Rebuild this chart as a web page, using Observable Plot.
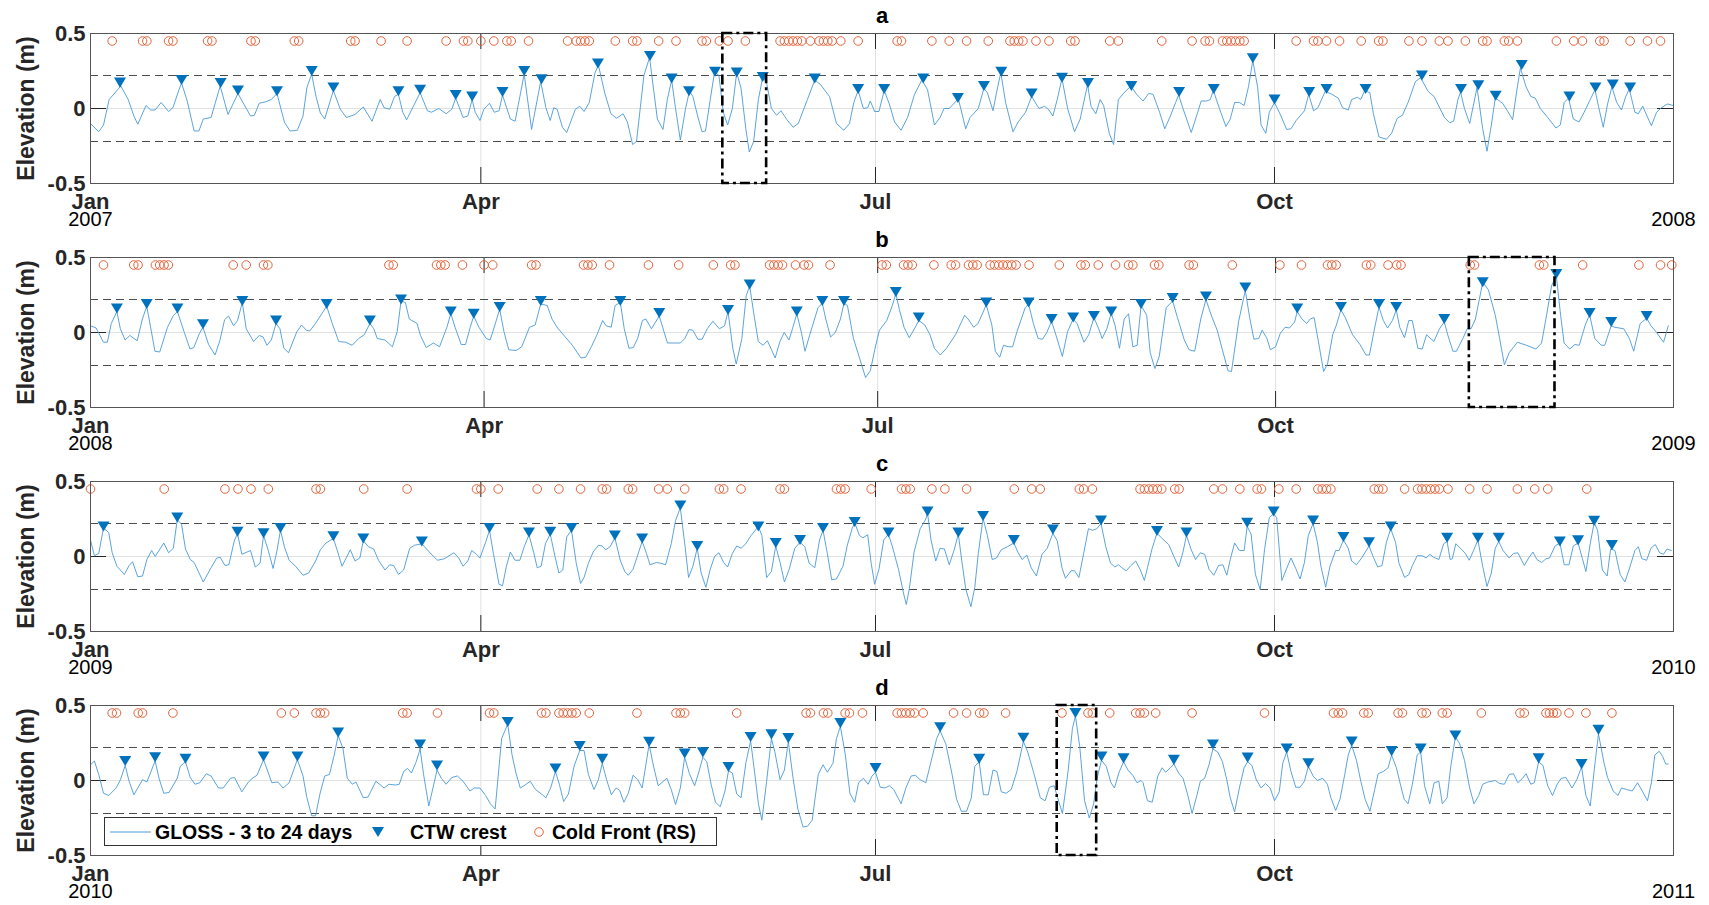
<!DOCTYPE html>
<html><head><meta charset="utf-8">
<script src="https://cdn.jsdelivr.net/npm/d3@7"></script>
<script src="https://cdn.jsdelivr.net/npm/@observablehq/plot@0.6"></script>
<style>
body{margin:0;background:#fff;font-family:"Liberation Sans",Arial,sans-serif}
#wrap{position:relative;width:1709px;height:905px;overflow:hidden}
#wrap svg{display:block;overflow:visible}
#legend{position:absolute;left:104px;top:817px}
</style></head><body><div id="wrap"></div>
<script>
// ---------------- DATA (day of year, value in m) ----------------
const years = [2007, 2008, 2009, 2010];
const panelLetters = ["a", "b", "c", "d"];
const monthLabels = ["Jan", "Apr", "Jul", "Oct"];
const monthIdx = [0, 3, 6, 9];
const yTicks = [0.5, 0, -0.5];
const threshold = 0.22;
const frontLevel = 0.45;

const lineA = [[0,-0.10],[1.9,-0.155],[3,-0.11],[4.3,0.06],[7,0.15],[8.7,0.06],[10,-0.05],[10.9,-0.105],[12.8,0.02],[13.9,-0.01],[14.9,-0.01],[16.3,0.04],[18,-0.02],[19,0.005],[20.4,0.125],[21,0.17],[22.3,0.05],[23.9,-0.15],[25,-0.15],[26,-0.07],[27.8,-0.06],[29.9,0.15],[31.7,-0.04],[34,0.10],[36.9,-0.05],[37.8,-0.045],[38.9,0.035],[40.4,0.045],[41.7,0.06],[43,0.10],[44.7,-0.09],[46,-0.15],[47.7,-0.145],[49,-0.05],[49.9,0.14],[51,0.23],[52,0.08],[53,-0.03],[54,-0.07],[56,0.12],[57.6,-0.005],[59,-0.06],[61,-0.04],[62.9,0.01],[64.9,-0.085],[66.8,0.06],[67.7,0.005],[69,-0.005],[70.1,0.08],[71,0.095],[72,-0.025],[72.9,-0.075],[76,0.105],[77.7,-0.015],[78.6,-0.025],[80.3,0],[82,-0.035],[83.3,-0.005],[84.2,0.07],[85.9,-0.06],[87,-0.05],[88,0.06],[88.7,-0.025],[89.8,-0.08],[90.7,-0.005],[92,0.035],[93.1,-0.025],[94.2,-0.015],[95,0.09],[96.8,-0.07],[97.9,-0.085],[99,0.08],[100,0.23],[101.7,-0.14],[103.8,0.18],[105,0.005],[106,-0.08],[106.8,0.005],[107.6,-0.005],[108.8,-0.125],[109.8,-0.16],[111.8,-0.005],[112.8,0.015],[113.8,-0.02],[115,0.04],[116.3,0.235],[117.1,0.29],[118.6,0.10],[120,-0.035],[121.3,-0.065],[122.8,-0.035],[123.8,-0.09],[125,-0.24],[125.9,-0.22],[127.6,0.22],[128.9,0.34],[130.7,-0.07],[132,-0.14],[133,0.06],[134,0.19],[134.9,0],[136,-0.21],[137.2,0],[138.1,0.115],[138.9,0.08],[139.9,-0.04],[141,-0.155],[141.8,-0.15],[142.9,0.06],[143.9,0.245],[144.9,0.22],[145.9,-0.025],[146.9,-0.11],[148,0],[149,0.24],[150,0.135],[151.1,-0.135],[151.9,-0.29],[152.9,-0.22],[154,0.06],[155,0.21],[155.9,0.17],[157,0],[158.2,-0.045],[159.2,-0.015],[160.6,-0.075],[162,-0.125],[163.2,-0.1],[165.3,0.06],[167,0.19],[168.3,0.16],[170.4,0.08],[172,-0.1],[173.7,-0.145],[175,-0.1],[176,0.04],[177,0.12],[178.2,0],[179.2,0.005],[179.8,0.05],[180.8,-0.02],[181.8,-0.02],[183,0.12],[184.2,0.03],[185.4,-0.09],[186.9,-0.145],[188.4,-0.06],[190,0.095],[191.7,0.19],[193,0.125],[194.6,-0.11],[195.9,-0.06],[196.8,0],[198,0],[200.1,0.065],[201.8,-0.135],[202.8,-0.06],[204.7,0],[206,0.135],[206.8,0.105],[208.1,-0.015],[208.9,0.105],[209.9,0.24],[211,0.04],[212.7,-0.155],[213.9,-0.09],[215.6,-0.025],[217,0.08],[218.7,0],[220,0.015],[221,-0.01],[221.9,-0.05],[222.9,0.06],[224,0.2],[225.3,0],[226.9,-0.155],[228.2,-0.07],[229.9,0.16],[230.7,0.015],[231.8,-0.035],[232.8,0.06],[233.6,0.02],[234.9,-0.165],[235.9,-0.24],[237,0.06],[238.3,0.105],[239.9,0.15],[241.2,0.095],[242.7,0.05],[244,0.10],[245,0.095],[246.5,-0.025],[247.7,-0.135],[249,-0.05],[250.2,0.04],[250.9,0.09],[251.9,0],[253.8,-0.16],[255.3,-0.025],[256.1,0.05],[257.4,0.05],[258.2,0.06],[258.9,0.12],[260.3,0],[261.8,-0.12],[262.8,-0.07],[263.8,0.04],[264.9,0.04],[266,0.02],[267,0.145],[268,0.32],[269.1,0.145],[269.9,-0.11],[271,-0.165],[271.8,-0.025],[273,0.04],[274.5,-0.05],[275.8,-0.14],[276.8,-0.135],[278,-0.08],[279.9,-0.015],[280.9,0.095],[282,-0.015],[283,0.005],[283.7,0.05],[284.7,0.115],[286.2,0.095],[287.7,0.07],[288.7,0.005],[290,-0.01],[290.8,0.06],[292.1,0.075],[292.9,0.06],[293.8,0.12],[295,0.105],[295.8,-0.035],[297.1,-0.19],[298.8,-0.205],[300,-0.165],[301.3,-0.065],[302.5,-0.045],[303.8,0.04],[305.5,0.18],[306.7,0.205],[308.4,0.115],[309.8,0.08],[310.9,0.015],[312.2,-0.06],[313.4,-0.095],[314.3,-0.085],[315.3,0.06],[315.9,0.11],[316.8,0],[318,-0.1],[319.7,0.14],[321,-0.135],[322,-0.285],[323,-0.11],[323.9,0.07],[325.6,0.035],[326.8,-0.02],[327.9,-0.075],[328.9,0.125],[329.7,0.27],[331,0.145],[332.1,0.08],[333.1,0.07],[334.3,0],[336,-0.06],[337.9,-0.13],[338.9,-0.11],[339.8,0.04],[340.8,0.07],[341.9,-0.07],[343.2,-0.09],[344.4,-0.025],[345.8,0.06],[346.9,0.125],[347.7,0.015],[348.8,-0.125],[349.8,0.03],[350.8,0.145],[351.9,0.04],[353,-0.01],[354,0.08],[354.8,0.13],[356.1,-0.025],[356.9,-0.035],[357.9,0.015],[359.9,-0.115],[361.1,-0.025],[362.2,0.005],[363.6,0.03],[365,0.02]];
const crestA = [[6.8,0.173],[21,0.19],[30,0.17],[34,0.12],[43,0.115],[51,0.25],[56,0.14],[71,0.115],[76,0.125],[84.2,0.09],[88,0.08],[95,0.11],[100,0.25],[104,0.195],[117,0.30],[129,0.35],[134,0.20],[138,0.115],[144,0.245],[149,0.24],[155,0.21],[167,0.2],[177,0.13],[183,0.13],[192,0.2],[200,0.07],[206,0.15],[210,0.245],[217,0.10],[224,0.205],[230,0.17],[240,0.15],[251,0.11],[259,0.13],[268,0.335],[273,0.06],[281,0.11],[285,0.13],[294,0.13],[307,0.22],[316,0.13],[320,0.155],[324,0.085],[330,0.29],[341,0.08],[347,0.14],[351,0.16],[355,0.14]];
const frontA = [5,12,13,18,19,27,28,37,38,47,48,60,61,67,73,82,86,87,90,93,96,97,101,110,112,113,114,115,121,125,126,131,135,141,142,145,147,151,159,160,161,162,163,164,166,168,169,170,171,173,177,186,187,194,198,202,207,212,213,214,215,218,221,226,227,235,237,247,254,257,258,261,262,263,264,265,266,278,282,283,285,288,293,297,298,304,307,311,313,317,321,322,326,327,329,338,342,344,348,349,355,359,362];
const boxA = [145.8, 155.9];

const lineB = [[0,0.045],[1.3,0.03],[3,-0.065],[3.9,-0.065],[4.8,0.06],[6.1,0.14],[6.9,0.025],[8,-0.05],[9.1,-0.02],[10.8,-0.055],[12,0.09],[13,0.175],[13.9,0.035],[14.9,-0.125],[16,-0.13],[17.8,0.035],[19.1,0.11],[20.1,0.14],[21.7,0],[23,-0.11],[23.9,-0.1],[25.2,-0.005],[26,0.035],[27.3,-0.08],[28.8,-0.15],[29.9,-0.055],[31,0.085],[31.9,0.11],[33.1,0.045],[34,0.08],[35.1,0.2],[36,0.025],[37.7,-0.06],[39,-0.02],[39.9,-0.03],[40.8,-0.085],[41.8,-0.05],[42.9,0.06],[43.8,0.025],[44.7,-0.105],[45.8,-0.135],[47.7,0.005],[48.8,0.05],[49.9,0.015],[50.7,0.01],[52,0.06],[54.6,0.175],[55.9,0.06],[57.4,-0.06],[59,-0.065],[60.5,-0.085],[62,-0.04],[63.3,-0.015],[64.6,0.06],[65.5,0.025],[66.3,-0.04],[68.1,-0.05],[69.8,-0.095],[70.9,0.005],[71.8,0.21],[72.8,0.2],[73.7,0.09],[75.5,0.06],[76.3,-0.02],[77.6,-0.1],[79.3,-0.07],[80.7,-0.095],[82.4,0.035],[83.3,0.125],[84.3,0.035],[85.7,-0.08],[86.7,-0.08],[87.8,0.035],[88.6,0.11],[89.8,0.035],[91.5,-0.04],[92.4,-0.05],[93.5,0.05],[94.6,0.155],[95.6,0.005],[96.7,-0.115],[98.4,-0.12],[99.7,-0.095],[101.5,0.035],[102.8,0.05],[104.1,0.19],[105.6,0.18],[106.7,0.09],[108,0.03],[111.4,-0.085],[113.4,-0.17],[114.5,-0.165],[115.8,-0.095],[117.1,-0.015],[118.4,0.08],[119.2,0.045],[120.4,0.035],[121.3,0.18],[122.5,0.2],[123.4,0.025],[124.5,-0.105],[125.5,-0.1],[126.5,-0.04],[127.6,0.08],[128.4,0.09],[129.7,0.025],[131.5,0.11],[132.6,0.005],[133.4,-0.07],[134.7,-0.07],[136.4,-0.07],[137.4,-0.04],[138.4,0.02],[139.3,0.015],[140.4,-0.045],[141.4,-0.045],[142.6,0.025],[143.9,0.075],[145.4,0.025],[146.6,0.045],[147.4,0.14],[148.5,-0.105],[149.3,-0.21],[150.6,-0.04],[151.6,0.245],[152.4,0.31],[153.5,0.1],[154.4,-0.06],[155.5,-0.085],[156.5,-0.055],[157.3,-0.105],[158.3,-0.17],[159.4,-0.06],[160.4,0],[161.5,-0.05],[162.3,0.025],[163.3,0.125],[164.4,-0.005],[165.2,-0.125],[166.3,-0.015],[168.2,0.165],[169.2,0.195],[170,0.09],[171.1,-0.03],[172.2,0],[173.4,0.09],[174.2,0.195],[175,0.18],[176.4,-0.04],[177.8,-0.17],[179.2,-0.3],[180.3,-0.255],[181.4,-0.105],[182.4,0.015],[184.1,0.08],[185.4,0.18],[186.2,0.26],[187,0.155],[188.1,0.035],[189.3,-0.035],[190.6,0.03],[191.5,0.08],[192.9,0.05],[194.1,-0.015],[195.1,-0.105],[196.5,-0.15],[197.9,-0.105],[200,-0.015],[202.1,0.115],[202.9,0.09],[204.2,0.035],[205.2,0.06],[206.3,0.13],[207.1,0.185],[208.4,0.05],[209.2,-0.125],[210.2,-0.165],[211.1,-0.085],[212.2,-0.095],[213.2,-0.095],[214.2,0.005],[216.1,0.165],[216.9,0.19],[218,0.06],[219.1,-0.04],[220.1,-0.045],[221.1,0],[222.2,0.075],[223.2,-0.015],[224.7,-0.16],[225.9,0.005],[227.2,0.09],[228.1,0.06],[229.7,-0.065],[230.8,-0.015],[232,0.1],[233.1,0.025],[233.9,-0.04],[235,0.025],[236,0.13],[236.9,0.045],[237.9,-0.105],[239,0.09],[240,0.125],[241,-0.095],[242,-0.085],[242.9,0.18],[244.2,0.115],[245,-0.135],[246.1,-0.24],[247.1,-0.16],[248.7,0.165],[250.2,0.21],[251.3,0.1],[252.9,-0.05],[254,-0.115],[255.3,-0.125],[256.7,0.09],[257.9,0.22],[259.2,0.11],[260.5,0.015],[261.7,-0.115],[263,-0.255],[263.8,-0.26],[265.5,0.08],[267,0.28],[268,0.1],[269,-0.045],[270.1,-0.04],[270.9,0.015],[272,-0.04],[272.8,-0.115],[274,-0.095],[275.1,-0.005],[276.2,0.035],[277.2,0.03],[278.4,0.07],[279,0.14],[280.1,0.09],[281.2,0.06],[282,0.09],[282.9,0.1],[283.9,-0.06],[285.1,-0.26],[286,-0.21],[287.2,-0.015],[288,0.045],[289.1,0.15],[290.1,0.1],[291.8,-0.015],[293.5,-0.08],[294.9,-0.15],[295.7,-0.15],[296.8,0.015],[297.9,0.17],[298.9,0.08],[299.9,0.03],[301,0.08],[301.9,0.15],[302.7,0.035],[303.8,-0.035],[304.8,0.08],[305.6,0.08],[306.9,-0.105],[307.9,-0.11],[308.9,-0.015],[310.6,-0.06],[311.9,0.025],[313,0.07],[313.8,-0.015],[315,-0.125],[315.8,-0.125],[317.3,-0.04],[318.3,0.025],[319.2,0.025],[320.2,0.09],[321.9,0.335],[323.2,0.285],[324.8,0.115],[325.8,-0.04],[326.9,-0.215],[328,-0.135],[329.9,-0.065],[332,-0.085],[334.2,-0.11],[335.5,-0.07],[336.5,0.09],[337.8,0.31],[338.9,0.38],[339.9,0.115],[340.7,-0.07],[342,-0.11],[343.2,-0.08],[344.2,-0.085],[345.6,0.05],[346.6,0.12],[347.8,-0.04],[349.3,-0.085],[350.1,-0.085],[351.6,0.045],[352.4,0.035],[354.5,0.025],[355.8,-0.04],[356.8,-0.125],[358.3,0.06],[359.8,0.095],[360.8,0.045],[362.1,0],[363.7,-0.065],[364.8,0.045]];
const crestB = [[6.1,0.16],[13,0.19],[20.1,0.16],[26,0.055],[35.1,0.21],[42.9,0.08],[54.6,0.19],[64.6,0.08],[71.8,0.22],[83.3,0.14],[88.6,0.125],[94.6,0.17],[104.1,0.21],[122.5,0.21],[131.5,0.13],[147.4,0.15],[152.4,0.32],[163.3,0.14],[169.2,0.21],[174.2,0.21],[186.2,0.27],[191.5,0.1],[207.1,0.2],[216.9,0.2],[222.2,0.09],[227.2,0.1],[232,0.11],[236,0.14],[242.9,0.19],[250.2,0.23],[257.9,0.24],[267,0.3],[279,0.16],[289.1,0.17],[297.9,0.19],[301.9,0.17],[313,0.09],[321.9,0.335],[338.9,0.39],[346.6,0.13],[351.6,0.07],[359.8,0.11]];
const frontB = [3,10,11,15,16,17,18,33,36,40,41,69,70,80,81,82,86,91,93,102,103,114,115,116,120,129,136,144,148,149,157,158,159,160,163,165,166,171,183,184,188,189,190,195,199,200,203,204,205,208,209,210,211,212,213,214,217,224,229,230,233,237,240,241,246,247,254,255,264,275,280,286,287,288,295,296,300,302,303,319,320,335,336,345,358,363,365.6];
const boxB = [318.8, 338.6];

const lineC = [[0,0.11],[0.9,0.005],[1.9,0.02],[3,0.19],[4.2,0.16],[5,0.025],[6.1,-0.065],[7.8,-0.12],[8.9,-0.06],[9.7,-0.035],[10.9,-0.135],[12,-0.13],[13,-0.02],[14.1,0.04],[14.9,0],[16.9,0.09],[18,0.025],[19.1,0.055],[20,0.245],[21,0.215],[21.9,0.05],[23,-0.02],[23.9,-0.04],[26,-0.17],[27.8,-0.075],[29.1,-0.01],[29.9,-0.005],[31,-0.06],[31.9,-0.055],[33.2,0.11],[33.9,0.15],[34.9,0.015],[36.9,0.04],[38,-0.07],[39.1,-0.045],[39.9,0.14],[41,0.04],[42.1,-0.08],[43,0.04],[43.8,0.175],[44.7,0.065],[45.8,-0.025],[47.3,-0.065],[49,-0.125],[50.3,-0.11],[51.9,-0.03],[53,0.045],[54.3,0.09],[56,0.12],[56.9,0.04],[58,-0.065],[59.9,0.045],[61,-0.03],[62.1,-0.01],[62.9,0.105],[64.1,0.065],[65.3,0.05],[66.4,-0.025],[67.9,-0.09],[69,-0.055],[69.9,-0.06],[71,-0.12],[72.2,-0.09],[73.6,0.055],[74.7,0.075],[76.4,0.085],[78.1,0.03],[80,-0.025],[81.6,-0.015],[83.8,0.025],[84.9,-0.01],[85.9,-0.065],[87,-0.03],[87.9,0.04],[89,0.015],[89.8,-0.01],[91.1,0.095],[92,0.175],[92.9,0.02],[94.2,-0.185],[95,-0.195],[95.9,-0.065],[96.8,0.03],[97.9,-0.025],[99,-0.025],[100,0.065],[101.1,0.145],[102.2,0.025],[103,-0.075],[103.9,-0.065],[104.9,0.085],[106,0.15],[107.1,0],[108,-0.11],[108.9,-0.09],[109.8,0.13],[110.9,0.175],[112,-0.045],[113,-0.18],[113.8,-0.14],[114.8,-0.045],[115.9,0.03],[117.1,0.075],[118,0.07],[118.8,0.045],[119.8,0.065],[120.9,0.125],[122.2,-0.03],[123.2,-0.1],[124,-0.125],[125.1,-0.085],[127.2,0.1],[128.2,0.02],[129,-0.055],[130.5,-0.04],[131.5,-0.045],[132.6,-0.055],[133.9,0.085],[134.9,0.24],[136,0.325],[137.1,0.065],[137.9,-0.14],[138.9,-0.065],[139.9,0.055],[140.8,-0.11],[141.9,-0.205],[142.9,-0.085],[143.9,0],[144.9,0.025],[146,-0.04],[146.9,-0.07],[148,0.02],[149,0.07],[150,0.055],[151.1,0.085],[152.3,0.14],[153.3,0.175],[154,0.2],[154.8,0.14],[155.9,-0.14],[157,-0.1],[158,0.07],[159,-0.04],[160,-0.17],[161.1,-0.085],[162.4,0.055],[163.6,0.095],[164.7,0.065],[165.7,-0.045],[167,-0.075],[168.1,0.11],[168.9,0.175],[169.9,0.02],[170.9,-0.155],[172,-0.15],[173.5,-0.065],[174.5,0.075],[175.6,0.185],[176.2,0.225],[177.3,0.14],[178.1,0.125],[179.2,0.145],[180,-0.045],[180.8,-0.185],[181.8,-0.085],[182.9,0.11],[184,0.15],[185,0.055],[186.3,-0.085],[187.5,-0.25],[188.1,-0.32],[188.8,-0.215],[189.9,0.03],[191.3,0.185],[192.6,0.25],[193,0.29],[193.8,0.11],[194.9,-0.03],[195.9,0.055],[196.9,0.05],[198,-0.055],[199.1,0.04],[200.1,0.15],[200.9,-0.03],[201.8,-0.215],[203,-0.335],[203.9,-0.205],[204.7,0.02],[205.8,0.255],[206.8,0.14],[207.9,-0.02],[208.9,-0.01],[210,0.045],[211.4,0.065],[212.9,0.09],[213.9,0.025],[214.8,-0.02],[215.9,0.01],[216.9,-0.075],[218.1,-0.13],[219.4,0.015],[220.6,0.055],[221.9,0.155],[222.9,0.105],[224,-0.075],[224.8,-0.145],[226.1,-0.095],[226.9,-0.095],[227.9,-0.14],[229,0.02],[230.1,0.185],[231.1,0.175],[232,0.185],[233,0.22],[234.1,0.065],[235.2,-0.045],[236.2,-0.07],[237,-0.055],[237.8,-0.075],[238.8,-0.095],[239.9,-0.06],[241,-0.03],[242,-0.085],[243,-0.16],[243.7,-0.075],[244.8,0.055],[245.9,0.155],[247.1,0.12],[248.6,0.08],[249.8,0],[250.9,-0.07],[251.9,0.03],[252.7,0.14],[253.8,0.045],[254.8,-0.02],[255.9,0.025],[256.9,0.015],[257.9,-0.085],[259,-0.125],[260.1,-0.06],[261.1,-0.055],[262,-0.125],[262.8,-0.02],[263.8,0.09],[264.9,0.04],[266,0.04],[266.7,0.2],[267.6,0.15],[268.6,-0.12],[269.7,-0.22],[270.7,0.045],[271.8,0.26],[272.8,0.285],[273.5,0.26],[274.7,-0.16],[275.8,-0.08],[276.8,-0.01],[277.9,-0.08],[278.9,-0.15],[279.9,-0.04],[280.8,0.14],[281.9,0.22],[282.9,0.095],[283.7,-0.065],[284.8,-0.205],[285.8,-0.065],[287.1,0.04],[287.9,0.04],[288.9,0.11],[290,0.055],[290.8,-0.03],[291.9,-0.055],[293.1,-0.01],[294.8,0.07],[295.8,-0.005],[296.8,-0.07],[297.8,-0.06],[298.8,0.095],[299.8,0.185],[300.9,0.095],[301.7,-0.045],[303,-0.14],[304,-0.12],[304.8,-0.06],[305.9,0.005],[307,0.005],[308,-0.01],[308.8,0.015],[309.7,-0.005],[310.9,-0.02],[312,0.085],[312.8,0.1],[313.5,-0.02],[314,-0.015],[314.8,0.085],[315.9,0.055],[317,0.02],[317.9,-0.025],[318.9,0.04],[319.9,0.11],[321,-0.065],[322,-0.2],[323,-0.11],[323.9,0.055],[324.7,0.1],[325.7,0.04],[327.1,-0.01],[328.1,0.02],[329.1,0.025],[330.6,-0.06],[331.6,-0.01],[332.6,0.03],[333.5,-0.02],[334.6,-0.04],[335.6,-0.015],[336.4,-0.01],[337.7,0.07],[338.8,0.09],[339.8,-0.055],[340.9,-0.055],[341.9,0.07],[343,0.09],[344,-0.015],[344.8,-0.1],[345.8,0.085],[346.7,0.225],[347.5,0.175],[348.6,-0.09],[349.7,-0.13],[350.5,0.05],[351.5,0.04],[352.7,-0.12],[353.8,-0.17],[355,-0.065],[356.1,0.04],[356.9,0.065],[357.7,-0.015],[358.8,-0.025],[359.8,0.055],[360.8,0.08],[361.8,0.025],[362.7,0.015],[363.5,0.05],[364.5,0.04]];
const crestC = [[3,0.2],[20,0.26],[33.9,0.165],[39.9,0.155],[43.8,0.19],[56,0.135],[62.9,0.12],[76.4,0.1],[92,0.19],[101.1,0.16],[106,0.165],[110.9,0.19],[120.9,0.14],[127.2,0.12],[136,0.34],[139.9,0.07],[154,0.2],[158,0.09],[163.6,0.11],[168.9,0.19],[176.2,0.23],[184,0.16],[193,0.3],[200.1,0.16],[205.8,0.27],[212.9,0.11],[221.9,0.18],[233,0.24],[245.9,0.17],[252.7,0.16],[266.7,0.225],[272.8,0.3],[281.9,0.24],[288.9,0.13],[294.8,0.095],[299.8,0.2],[312.8,0.125],[319.9,0.125],[324.7,0.125],[338.8,0.1],[343,0.108],[346.7,0.238],[350.8,0.076]];
const frontC = [0,17,31,34,37,41,52,53,63,73,89,90,94,103,108,113,118,119,124,125,131,133,137,145,146,150,159,160,172,173,174,180,187,188,189,194,197,202,213,217,219,228,229,231,242,243,244,245,246,247,250,251,259,261,265,269,270,274,278,283,284,285,286,296,297,298,303,306,307,308,309,310,311,313,318,322,329,333,336,345];

const lineD = [[0,0.105],[0.9,0.13],[1.9,0.04],[3,-0.085],[4.2,-0.1],[5.9,-0.05],[6.9,0.005],[8,0.1],[8.9,-0.005],[10,-0.095],[12,0.005],[13,-0.01],[14.9,0.13],[15.8,0.015],[16.9,-0.085],[18.1,-0.08],[20,0.015],[20.7,0.095],[21.9,0.125],[23,0.02],[24.1,-0.025],[25.2,-0.015],[26.7,0.045],[27.8,0.03],[29.5,-0.05],[30.6,-0.05],[32.3,0.015],[33.2,0.02],[34.9,-0.075],[36.3,-0.015],[37.3,0.015],[38.4,0.035],[39.9,0.14],[41,0.05],[41.8,-0.015],[43.2,-0.01],[44.4,-0.05],[45.8,-0.015],[47.7,0.14],[49,0.03],[49.9,-0.115],[51,-0.235],[51.9,-0.235],[52.9,-0.09],[54,0.03],[55.1,0.04],[56.2,0.17],[57.1,0.3],[58.2,0.215],[59.2,0.015],[60.4,-0.025],[61.2,-0.01],[62.9,-0.115],[64,-0.11],[65.8,-0.005],[67.7,-0.05],[68.8,-0.025],[70.3,-0.03],[71.2,-0.025],[72.2,0.06],[73.1,0.08],[74,0.05],[75.1,0.125],[76,0.21],[76.8,0.04],[78,-0.17],[78.8,-0.07],[79.9,0.07],[80.9,0.015],[82,-0.025],[83.3,0.02],[84.6,0.03],[85.9,-0.005],[87.5,-0.07],[88.5,-0.05],[89.8,-0.05],[91.1,-0.1],[92.2,-0.155],[93.3,-0.19],[94.8,0.28],[96.2,0.375],[97.2,0.17],[98.1,0.05],[99.1,-0.05],[100.2,-0.03],[101.4,-0.005],[102.6,-0.06],[104.2,-0.095],[105,-0.115],[106.1,-0.05],[107.2,0.06],[108.1,-0.025],[109.1,-0.14],[110.2,-0.09],[111.5,0.095],[112.8,0.2],[113.8,0.2],[114.8,0.04],[116.1,-0.06],[117.1,0.005],[118,0.115],[119,0.005],[120.1,-0.095],[121.2,-0.05],[122,-0.065],[123,-0.145],[124,-0.085],[125.1,0.035],[126.2,0.005],[127.2,-0.05],[128,0.095],[128.8,0.24],[129.9,0.085],[130.9,-0.035],[132.9,0.015],[133.9,-0.06],[134.9,-0.16],[136,-0.05],[137,0.155],[138.1,0.045],[139.3,-0.035],[140.3,0.06],[141.2,0.155],[142.1,0.125],[143.1,-0.025],[144.1,-0.145],[145.2,-0.175],[146.3,-0.07],[147.1,0.065],[148,0.05],[149,-0.09],[150,-0.115],[151.1,0.115],[152.2,0.265],[153,0.085],[154,-0.155],[154.8,-0.265],[155.9,-0.005],[157,0.28],[157.8,0.19],[159,0.005],[160,0.07],[160.9,0.26],[162,0.015],[163.1,-0.19],[164.3,-0.31],[165.3,-0.305],[166.4,-0.265],[167.8,0.04],[168.9,0.105],[169.9,0.055],[171.2,0.115],[172,0.28],[172.9,0.36],[174,0.18],[175.1,-0.085],[176.2,-0.145],[177.1,-0.015],[178.2,0.015],[179.3,-0.025],[180.2,0.03],[181,0.055],[182.1,-0.045],[183.2,-0.05],[184.2,-0.035],[185.2,-0.06],[186.9,-0.155],[188,-0.05],[189.2,0.03],[190.2,0.035],[191.3,0.005],[192.6,-0.015],[193.8,0.125],[195.1,0.28],[195.9,0.33],[197.2,0.245],[198.6,0.05],[199.7,-0.125],[200.8,-0.205],[202,-0.205],[203.1,-0.115],[203.9,0.095],[204.9,0.125],[205.9,-0.095],[207,-0.095],[208.1,0.07],[209,0.06],[210,-0.075],[211.1,-0.085],[212.3,-0.06],[213.6,0.06],[215.1,0.26],[216.1,0.19],[217.4,0.06],[219,-0.115],[220.1,-0.135],[221.1,-0.045],[222.2,-0.035],[223,-0.115],[224.1,-0.22],[225.4,0.06],[226.4,0.345],[227.1,0.43],[228.1,0.225],[229.2,-0.135],[230.3,-0.25],[231.3,-0.155],[232.1,0.015],[233.1,0.135],[234.2,0.095],[235.3,-0.015],[236.1,-0.05],[237.1,0.05],[238.2,0.125],[239.2,0.07],[240.3,0.035],[241.3,-0.015],[242.2,0],[242.7,-0.015],[243.7,-0.135],[244.8,-0.145],[246.1,0.03],[247.1,0.085],[247.9,0.055],[249,0.085],[249.8,0.11],[250.9,0.05],[251.9,0.015],[252.9,-0.085],[254,-0.22],[255.1,-0.1],[255.9,-0.005],[256.9,0.015],[257.9,0.105],[258.8,0.21],[259.9,0.19],[261,0.125],[262,0.005],[262.8,-0.115],[263.8,-0.21],[264.9,-0.05],[266,0.085],[266.8,0.125],[267.8,0.1],[268.8,0.005],[269.9,-0.05],[270.9,-0.02],[272,-0.05],[273,-0.135],[274.1,-0.075],[274.9,0.115],[275.8,0.19],[276.8,0.06],[277.9,-0.045],[278.9,-0.045],[279.9,-0.005],[280.8,0.095],[281.9,0.03],[282.9,0],[284.1,0.015],[285.2,-0.025],[286,-0.115],[287.1,-0.2],[288.1,-0.125],[289.2,0.04],[290,0.17],[290.8,0.235],[291.9,0.135],[292.9,-0.005],[293.9,-0.125],[295,-0.205],[296.1,-0.06],[296.9,0.045],[298.1,0.06],[299.2,0.085],[300,0.17],[301.1,0.085],[302.1,-0.035],[302.9,-0.125],[303.8,-0.155],[304.8,-0.025],[305.9,0.17],[306.7,0.19],[307.6,-0.035],[308.8,-0.155],[309.8,-0.015],[310.9,-0.005],[311.7,-0.155],[312.8,-0.115],[313.7,0.105],[314.7,0.29],[315.7,0.245],[316.8,0.135],[318,-0.05],[319,-0.155],[320.1,-0.1],[321,-0.025],[322.2,-0.01],[323.9,0],[324.9,-0.02],[326,-0.025],[327.1,0.04],[328.1,0.045],[329.1,-0.015],[330.2,0.015],[331,0.045],[332.1,-0.025],[332.9,-0.015],[333.9,0.125],[334.9,0.1],[336,-0.035],[337.1,-0.1],[338.1,-0.03],[339.1,0.015],[340.2,0.02],[341.6,-0.05],[342.7,0.005],[343.8,0.09],[344.8,-0.1],[345.8,-0.17],[346.9,0.115],[347.7,0.31],[349,0.115],[349.8,0.02],[351.1,-0.07],[352.2,-0.1],[353,-0.05],[354.2,-0.06],[355.5,-0.07],[356.7,-0.015],[357.8,-0.07],[359,-0.135],[359.9,-0.015],[360.7,0.17],[361.7,0.195],[362.5,0.16],[363.2,0.11],[363.8,0.11]];
const crestD = [[8,0.13],[14.9,0.155],[21.9,0.145],[39.9,0.16],[47.7,0.16],[57.1,0.32],[76,0.24],[79.9,0.1],[96.2,0.39],[107.2,0.08],[112.8,0.23],[118,0.144],[128.8,0.257],[137,0.18],[141.2,0.187],[147.1,0.09],[152.2,0.29],[157,0.307],[160.9,0.283],[172.9,0.383],[181,0.083],[195.9,0.355],[204.9,0.144],[215.1,0.285],[227.1,0.45],[233.1,0.16],[238.2,0.148],[249.8,0.137],[258.8,0.24],[266.8,0.152],[275.8,0.213],[280.8,0.115],[290.8,0.26],[300,0.196],[306.7,0.213],[314.7,0.3],[333.9,0.148],[343.8,0.109],[347.7,0.338]];
const frontD = [5,6,11,12,19,44,47,52,53,54,72,73,80,92,93,104,105,108,109,110,111,112,115,126,135,136,137,149,165,166,169,170,174,175,178,186,187,188,189,190,192,199,202,205,206,211,224,230,231,235,241,242,243,245.6,254,270.7,286.6,287.7,288.7,293.6,294.6,301.5,302.5,307,308,311.7,312.8,320.7,329.6,330.6,335.6,336.4,337.3,338.1,340.9,344.8,350.8];
const boxD = [222.9, 232];

const legendLabels = ["GLOSS - 3 to 24 days", "CTW crest", "Cold Front (RS)"];

// ---------------- STYLE ----------------
const lineColor = "#4a9ad8", crestColor = "#0072bd", frontColor = "#e4643c";
const W = 1709, H = 224, ML = 90, MR = 36, MT = 33, MB = 41;
const FONT = "'Liberation Sans', Arial, Helvetica, sans-serif";

const triDown = {draw(ctx, size) {
  const r = Math.sqrt(size / Math.PI), h = r * 0.85;
  ctx.moveTo(-r, -h); ctx.lineTo(r, -h); ctx.lineTo(0, h); ctx.closePath();
}};

const panels = [
  {line: lineA, crest: crestA, front: frontA, box: boxA},
  {line: lineB, crest: crestB, front: frontB, box: boxB},
  {line: lineC, crest: crestC, front: frontC, box: null},
  {line: lineD, crest: crestD, front: frontD, box: boxD}
];

const wrap = document.getElementById("wrap");
const plotH = H - MT - MB;

panels.forEach((p, i) => {
  const year = years[i];
  const t0 = Date.UTC(year, 0, 1), t1 = Date.UTC(year + 1, 0, 1);
  const dt = d => new Date(t0 + d * 86400000);
  const msPerPx = (t1 - t0) / (W - ML - MR);
  const tickPx = 16;
  const tickY = tickPx / plotH;
  const gridDates = monthIdx.slice(1).map(m => new Date(Date.UTC(year, m, 1)));
  const monthTicks = monthIdx.map((m, k) => ({date: new Date(Date.UTC(year, m, 1)), label: monthLabels[k]}));
  const yearTicks = [{date: new Date(t0), label: String(year)}, {date: new Date(t1), label: String(year + 1)}];

  const marks = [
    Plot.ruleX(gridDates, {stroke: "#e2e2e2", strokeWidth: 1}),
    Plot.ruleY([0], {stroke: "#e2e2e2", strokeWidth: 1}),
    Plot.ruleX(gridDates, {y1: 0.5, y2: 0.5 - tickY, stroke: "#262626", strokeWidth: 1}),
    Plot.ruleX(gridDates, {y1: -0.5, y2: -0.5 + tickY, stroke: "#262626", strokeWidth: 1}),
    Plot.ruleY([0], {x1: new Date(t0), x2: new Date(t0 + tickPx * msPerPx), stroke: "#262626", strokeWidth: 1}),
    Plot.ruleY([0], {x1: new Date(t1 - tickPx * msPerPx), x2: new Date(t1), stroke: "#262626", strokeWidth: 1}),
    Plot.ruleY([threshold, -threshold], {stroke: "#4d4d4d", strokeWidth: 1, strokeDasharray: "8,5"}),
    Plot.line(p.line, {x: d => dt(d[0]), y: d => d[1], stroke: lineColor, strokeWidth: 0.9}),
    Plot.dot(p.front, {x: d => dt(d), y: () => frontLevel, r: 4.3, stroke: frontColor, strokeWidth: 1, fill: "none"}),
    Plot.dot(p.crest, {x: d => dt(d[0]), y: d => d[1], r: 6, symbol: triDown, fill: crestColor, stroke: "none"}),
    Plot.frame({stroke: "#555", strokeWidth: 1}),
    Plot.text(yTicks, {y: d => d, text: d => d === 0 ? "0" : String(d), frameAnchor: "left", textAnchor: "end", dx: -5, fontSize: 22, fontWeight: "bold", fill: "#262626"}),
    Plot.text(monthTicks, {x: "date", text: "label", frameAnchor: "bottom", lineAnchor: "top", dy: 10, fontSize: 22, fontWeight: "bold", fill: "#262626"}),
    Plot.text(yearTicks, {x: "date", text: "label", frameAnchor: "bottom", lineAnchor: "top", dy: 28, fontSize: 20, fill: "#000"}),
    Plot.text(["Elevation (m)"], {frameAnchor: "left", textAnchor: "middle", rotate: -90, dx: -64, fontSize: 23, fontWeight: "bold", fill: "#262626"}),
    Plot.text([panelLetters[i]], {frameAnchor: "top", textAnchor: "middle", lineAnchor: "bottom", dy: -11, fontSize: 22, fontWeight: "bold", fill: "#000"})
  ];
  if (p.box) {
    marks.push(Plot.rect([p.box], {x1: d => dt(d[0]), x2: d => dt(d[1]), y1: -0.5, y2: 0.5, fill: "none", stroke: "#000", strokeWidth: 2.6, strokeDasharray: "10,4,3,4"}));
  }

  const chart = Plot.plot({
    width: W, height: H,
    marginLeft: ML, marginRight: MR, marginTop: MT, marginBottom: MB,
    x: {type: "utc", domain: [new Date(t0), new Date(t1)], axis: null},
    y: {domain: [-0.5, 0.5], axis: null},
    style: {fontFamily: FONT, background: "transparent", overflow: "visible"},
    marks
  });
  wrap.appendChild(chart);
});

// legend (inside panel d)
const lg = d3.select(wrap).append("svg").attr("id", "legend").attr("width", 614).attr("height", 30)
  .style("font-family", FONT);
lg.append("rect").attr("x", 0.5).attr("y", 0.5).attr("width", 612).attr("height", 28).attr("fill", "#fff").attr("stroke", "#333").attr("stroke-width", 1);
lg.append("line").attr("x1", 6).attr("x2", 47).attr("y1", 15).attr("y2", 15).attr("stroke", lineColor).attr("stroke-width", 1);
lg.append("path").attr("d", "M268,10L280,10L274,20Z").attr("fill", crestColor);
lg.append("circle").attr("cx", 435).attr("cy", 15).attr("r", 4.3).attr("fill", "none").attr("stroke", frontColor);
const lx = [51, 306, 448];
legendLabels.forEach((t, k) => lg.append("text").attr("x", lx[k]).attr("y", 22).attr("font-size", 19.5).attr("font-weight", "bold").attr("fill", "#000").text(t));
</script>
</body></html>
